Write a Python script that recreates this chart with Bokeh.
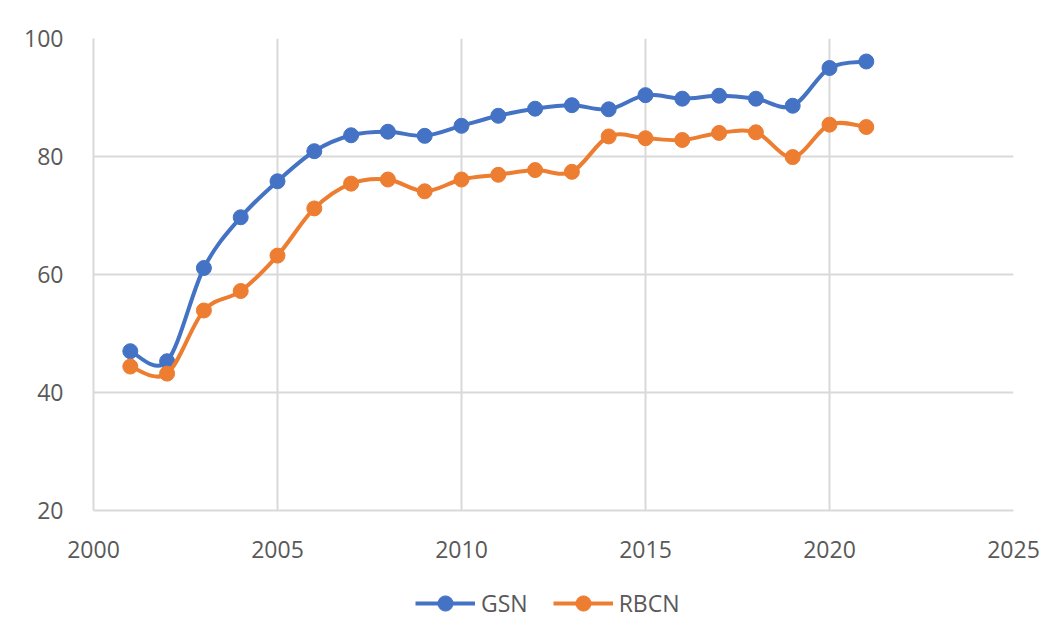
from bokeh.plotting import figure
from bokeh.models import Legend, LegendItem, FixedTicker, ColumnDataSource
from bokeh.layouts import column
from bokeh.embed import file_html
from bokeh.resources import INLINE

years = [2001, 2002, 2003, 2004, 2005, 2006, 2007, 2008, 2009, 2010, 2011,
         2012, 2013, 2014, 2015, 2016, 2017, 2018, 2019, 2020, 2021]
gsn = [47.0, 45.3, 61.1, 69.7, 75.8, 80.9, 83.6, 84.2, 83.5, 85.2, 86.9,
       88.1, 88.7, 88.0, 90.4, 89.8, 90.3, 89.8, 88.6, 95.0, 96.1]
rbcn = [44.4, 43.2, 53.9, 57.2, 63.2, 71.2, 75.4, 76.1, 74.1, 76.1, 76.9,
        77.7, 77.4, 83.4, 83.1, 82.8, 84.0, 84.1, 79.9, 85.4, 85.0]
x_ticks = [2000, 2005, 2010, 2015, 2020, 2025]
y_ticks = [20, 40, 60, 80, 100]
series_names = ["GSN", "RBCN"]
colors = ["#4472C4", "#ED7D31"]

FONT = "Open Sans"
GRAY = "#d9d9d9"
TEXT = "#595959"


def smooth_segments(xs, ys):
    """Cubic Bezier segments (Catmull-Rom, like Excel's smoothed line)."""
    n = len(xs)
    d = dict(x0=[], y0=[], x1=[], y1=[], cx0=[], cy0=[], cx1=[], cy1=[])
    for i in range(n - 1):
        x0, y0 = xs[i], ys[i]
        x1, y1 = xs[i + 1], ys[i + 1]
        xp, yp = (xs[i - 1], ys[i - 1]) if i > 0 else (x0, y0)
        xn, yn = (xs[i + 2], ys[i + 2]) if i + 2 < n else (x1, y1)
        d["x0"].append(x0); d["y0"].append(y0)
        d["x1"].append(x1); d["y1"].append(y1)
        d["cx0"].append(x0 + (x1 - xp) / 6); d["cy0"].append(y0 + (y1 - yp) / 6)
        d["cx1"].append(x1 - (xn - x0) / 6); d["cy1"].append(y1 - (yn - y0) / 6)
    return ColumnDataSource(d)


p = figure(frame_width=920, frame_height=472, output_backend="svg",
           toolbar_location=None,
           x_range=(2000, 2025), y_range=(20, 100),
           min_border_left=93, min_border_right=40, min_border_top=38,
           min_border_bottom=70)
p.outline_line_color = None
p.background_fill_color = "white"
p.border_fill_color = "white"

for ax, ticks in ((p.xaxis, x_ticks), (p.yaxis, y_ticks)):
    ax.ticker = FixedTicker(ticks=ticks)
    ax.axis_line_color = GRAY
    ax.axis_line_width = 2
    ax.major_tick_line_color = None
    ax.minor_tick_line_color = None
    ax.major_label_text_font = FONT
    ax.major_label_text_font_size = "23px"
    ax.major_label_text_color = TEXT
    ax.major_label_standoff = 24

p.xgrid.ticker = FixedTicker(ticks=x_ticks)
p.ygrid.ticker = FixedTicker(ticks=y_ticks)
for g in (p.xgrid, p.ygrid):
    g.grid_line_color = GRAY
    g.grid_line_width = 2

# separate strip below the chart that holds the legend
leg = figure(width=1053, height=61, output_backend="svg", toolbar_location=None,
             x_range=(0, 1), y_range=(0, 1), min_border=0)
leg.axis.visible = False
leg.grid.visible = False
leg.outline_line_color = None
leg.border_fill_color = "white"

items = []
for name, vals, c in zip(series_names, [gsn, rbcn], colors):
    src = ColumnDataSource(dict(x=years, y=vals))
    p.bezier(x0="x0", y0="y0", x1="x1", y1="y1", cx0="cx0", cy0="cy0",
             cx1="cx1", cy1="cy1", source=smooth_segments(years, vals),
             line_color=c, line_width=4)
    p.scatter("x", "y", source=src, size=15, fill_color=c, line_color=c)
    kl = leg.line(x=[float("nan")], y=[float("nan")], line_color=c, line_width=4)
    ks = leg.scatter(x=[float("nan")], y=[float("nan")], size=15,
                     fill_color=c, line_color=c)
    items.append(LegendItem(label=name, renderers=[kl, ks]))

legend = Legend(items=items, orientation="horizontal", location=(322, 19),
                label_text_font=FONT, label_text_font_size="23px",
                label_text_color=TEXT, glyph_width=60, glyph_height=38,
                spacing=25, label_standoff=6, border_line_color=None,
                padding=0, margin=0, background_fill_alpha=0)
leg.add_layout(legend)

layout = column(p, leg, spacing=0)
open("out.html", "w").write(file_html(layout, INLINE))
